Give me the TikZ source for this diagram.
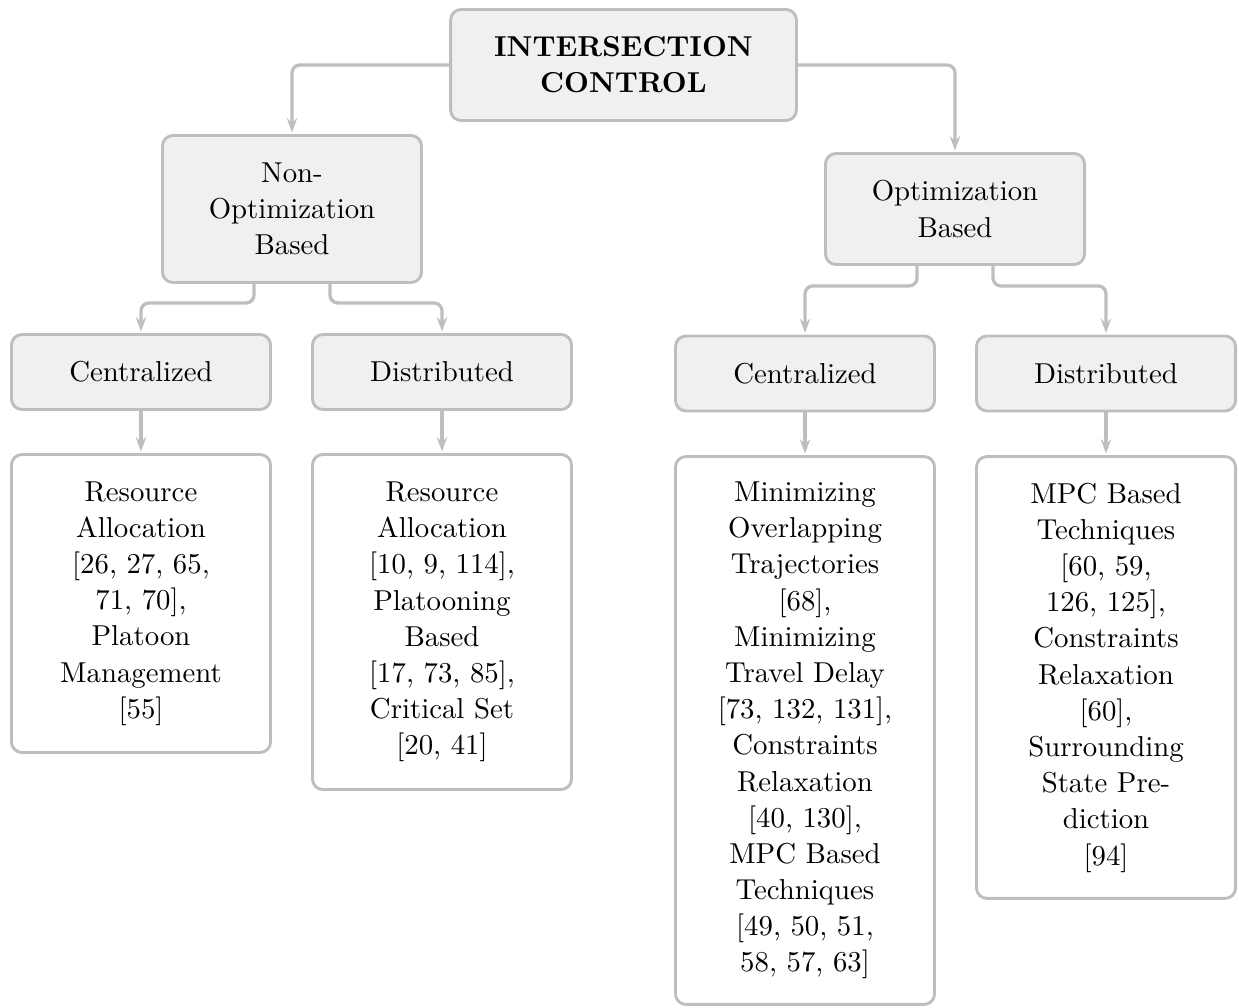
\documentclass[tikz,border=0pt]{standalone}
\usetikzlibrary{arrows.meta}
\definecolor{edgegray}{HTML}{BEBEBE}
\definecolor{boxfill}{HTML}{F0F0F0}
\begin{document}
\begin{tikzpicture}[x=0.3802pt,y=-0.3802pt,
  box/.style={draw=edgegray, line width=1.1pt, rounded corners=4pt, fill=boxfill,
    minimum width=98.5pt, align=center, inner sep=0pt,
    font=\fontsize{10.95}{13.76}\selectfont},
  leaf/.style={box, fill=white},
  conn/.style={draw=edgegray, line width=1.25pt, rounded corners=3pt,
    -{Stealth[length=5.5pt,width=4pt,inset=2pt]}, shorten >=0.6pt}]
\useasboundingbox (0,0) rectangle (1239,1008);

\node[box, minimum width=131.5pt, minimum height=42.2pt,
  font=\fontsize{10.95}{13.76}\selectfont\bfseries] (root) at (623.5,65) {INTERSECTION\\CONTROL};
\node[box, minimum height=55.9pt] (nonopt) at (292,209) {Non-\\Optimization\\Based};
\node[box, minimum height=42.2pt] (opt) at (955,209) {Optimization\\Based};

\node[box, minimum height=28.5pt] (cent1) at (141,372) {Centralized};
\node[box, minimum height=28.5pt] (dist1) at (442,372) {Distributed};
\node[box, minimum height=28.5pt] (cent2) at (805,373.5) {Centralized};
\node[box, minimum height=28.5pt] (dist2) at (1106,373.5) {Distributed};

\node[leaf, minimum height=113.3pt] (leaf1) at (141,603.5)
  {Resource\\Allocation\\{[}26, 27, 65,\\71, 70],\\Platoon\\Management\\{[}55]};
\node[leaf, minimum height=127.4pt] (leaf2) at (442,622)
  {Resource\\Allocation\\{[}10, 9, 114],\\Platooning\\Based\\{[}17, 73, 85],\\Critical Set\\{[}20, 41]};
\node[leaf, minimum height=208.3pt] (leaf3) at (805,730.5)
  {Minimizing\\Overlapping\\Trajectories\\{[}68],\\Minimizing\\Travel Delay\\{[}73, 132, 131],\\Constraints\\Relaxation\\{[}40, 130],\\MPC Based\\Techniques\\{[}49, 50, 51,\\58, 57, 63]};
\node[leaf, minimum height=168pt] (leaf4) at (1106,677.5)
  {MPC Based\\Techniques\\{[}60, 59,\\126, 125],\\Constraints\\Relaxation\\{[}60],\\Surrounding\\State Pre-\\diction\\{[}94]};

\draw[conn] (root.west) -| (nonopt.north);
\draw[conn] (root.east) -| (opt.north);

\draw[conn] ([xshift=-14.45pt]nonopt.south) -- ++(0,19) -| (cent1.north);
\draw[conn] ([xshift=14.45pt]nonopt.south) -- ++(0,19) -| (dist1.north);
\draw[conn] ([xshift=-14.45pt]opt.south) -- ++(0,20) -| (cent2.north);
\draw[conn] ([xshift=14.45pt]opt.south) -- ++(0,20) -| (dist2.north);

\draw[conn] (cent1.south) -- (leaf1.north);
\draw[conn] (dist1.south) -- (leaf2.north);
\draw[conn] (cent2.south) -- (leaf3.north);
\draw[conn] (dist2.south) -- (leaf4.north);
\end{tikzpicture}
\end{document}
